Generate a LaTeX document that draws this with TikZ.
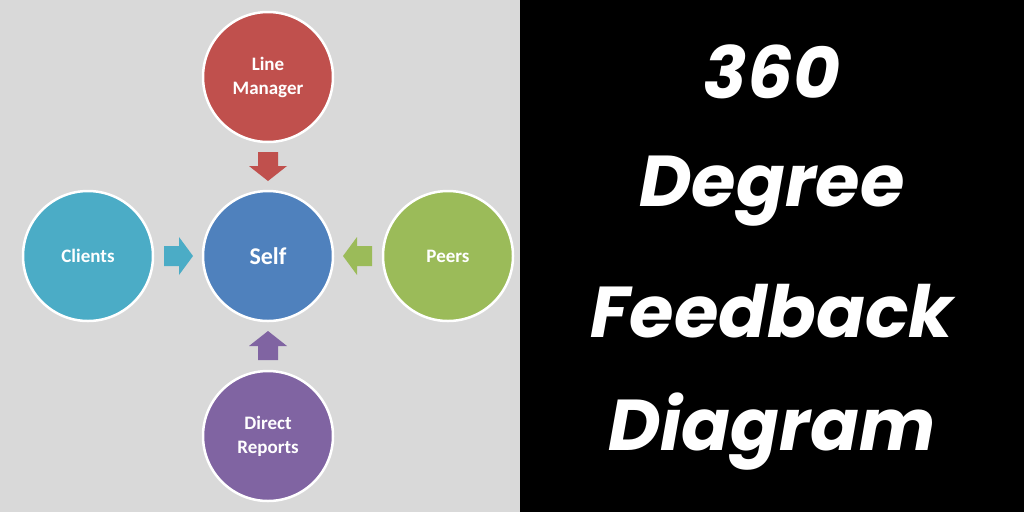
\documentclass[tikz,border=0pt]{standalone}
\usepackage{fontspec}
\setmainfont{Carlito}
\newfontfamily\titlefont{Poppins}
\definecolor{bgl}{HTML}{D9D9D9}
\definecolor{cred}{HTML}{C0504D}
\definecolor{cblue}{HTML}{4F81BD}
\definecolor{ccyan}{HTML}{4BACC6}
\definecolor{cgreen}{HTML}{9BBB59}
\definecolor{cpurple}{HTML}{8064A2}
\tikzset{
 disc/.style={circle,draw=white,line width=2.5pt,minimum size=130pt,inner sep=0pt,text=white,font=\bfseries\fontsize{19}{24}\selectfont,align=center},
 ttl/.style={text=white,font=\titlefont\bfseries\itshape\fontsize{72}{74}\selectfont,anchor=center}
}
\begin{document}
\begin{tikzpicture}[x=1pt,y=-1pt]
\fill[bgl] (0,0) rectangle (520,512);
\fill[black] (520,0) rectangle (1024,512);
\node[disc,fill=cblue,font=\bfseries\fontsize{24}{26}\selectfont] (self) at (268,256) {Self};
\node[disc,fill=cred] (lm) at (268,77) {Line\\Manager};
\node[disc,fill=cpurple] (dr) at (268,436) {Direct\\Reports};
\node[disc,fill=ccyan] (cl) at (88,256) {Clients};
\node[disc,fill=cgreen] (pe) at (448,256) {Peers};
% block arrows
\fill[cred] (258,152) -- (278,152) -- (278,166) -- (287,166) -- (268,181) -- (249,166) -- (258,166) -- cycle;
\fill[cpurple] (258,360) -- (278,360) -- (278,346) -- (287,346) -- (268,331) -- (249,346) -- (258,346) -- cycle;
\fill[ccyan] (164,246) -- (179,246) -- (179,237) -- (193,256) -- (179,275) -- (179,266) -- (164,266) -- cycle;
\fill[cgreen] (372,246) -- (357,246) -- (357,237) -- (343,256) -- (357,275) -- (357,266) -- (372,266) -- cycle;
\node[ttl] (t1) at (772,72) {360};
\node[ttl] (t2) at (772,191) {Degree};
\node[ttl] (t3) at (772,311) {Feedback};
\node[ttl] (t4) at (772,432) {Diagram};
\end{tikzpicture}
\end{document}
